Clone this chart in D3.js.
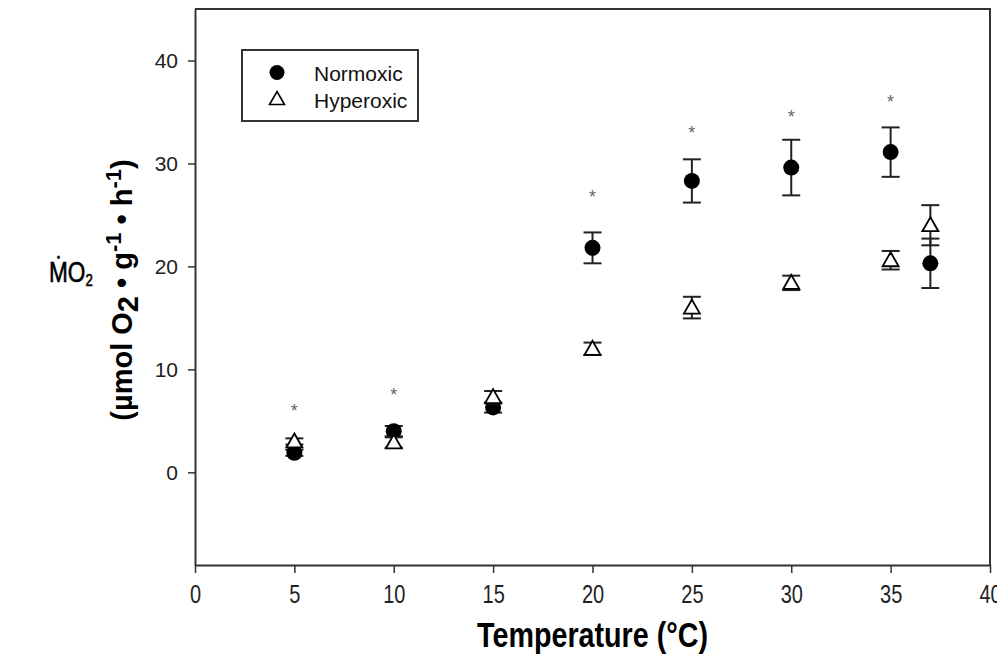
<!DOCTYPE html>
<html>
<head>
<meta charset="utf-8">
<script src="https://cdn.jsdelivr.net/npm/d3@7"></script>
<style>
  html, body { margin: 0; padding: 0; background: #fff; }
  svg { display: block; }
  text { font-family: Arial, "Liberation Sans", sans-serif; }
</style>
</head>
<body>
<svg id="chart" width="997" height="658"></svg>
<script>
// ---- data ----
const temperatures = [5, 10, 15, 20, 25, 30, 35, 37];
const normoxicMean = [1.9, 4.0, 6.3, 21.8, 28.3, 29.6, 31.1, 20.3];
const normoxicErr  = [0.3, 0.5, 0.5, 1.5, 2.1, 2.7, 2.4, 2.4];
const hyperoxicMean = [3.0, 2.9, 7.3, 12.0, 16.0, 18.4, 20.6, 24.0];
const hyperoxicErr  = [0.3, 0.5, 0.6, 0.6, 1.05, 0.7, 0.9, 1.95];
const asteriskTemps = [5, 10, 20, 25, 30, 35];
const asteriskLevels = [6.3, 7.9, 27.1, 33.3, 34.9, 36.4];
const xTicks = [0, 5, 10, 15, 20, 25, 30, 35, 40];
const yTicks = [0, 10, 20, 30, 40];
const seriesNames = ["Normoxic", "Hyperoxic"];

// ---- layout ----
const svg = d3.select("#chart");
const pLeft = 195, pRight = 990, pTop = 9, pBottom = 565;
const x = d3.scaleLinear().domain([0, 40]).range([pLeft, pRight]);
const y = d3.scaleLinear().domain([-9, 45]).range([pBottom, pTop]);
const axisColor = "#333";
const narrow = 0.8;

// frame (top & right)
svg.append("path")
  .attr("d", `M${pLeft},${pTop}H${pRight}V${pBottom}`)
  .attr("fill", "none").attr("stroke", axisColor).attr("stroke-width", 2);

// axes
const xAxis = svg.append("g").attr("transform", `translate(0,${pBottom})`)
  .call(d3.axisBottom(x).tickValues(xTicks).tickSizeOuter(0).tickSizeInner(8));
const yAxis = svg.append("g").attr("transform", `translate(${pLeft},0)`)
  .call(d3.axisLeft(y).tickValues(yTicks).tickSizeOuter(0).tickSizeInner(7).tickPadding(10));
[xAxis, yAxis].forEach(g => {
  g.select(".domain").attr("stroke", axisColor).attr("stroke-width", 2);
  g.selectAll(".tick line").attr("stroke", axisColor).attr("stroke-width", 1.5);
  g.selectAll(".tick text").attr("fill", "#222")
    .style("font-family", "Arial, 'Liberation Sans', sans-serif");
});
xAxis.selectAll(".tick text")
  .attr("y", 0).attr("dy", null)
  .attr("transform", `translate(0,38) scale(${narrow},1)`)
  .style("font-size", "25px");
yAxis.selectAll(".tick text").style("font-size", "21px");

// ---- markers ----
const capW = 9;
function drawSeries(means, errs, kind) {
  const g = svg.append("g");
  temperatures.forEach((t, i) => {
    const cx = x(t);
    const y1 = y(means[i] + errs[i]), y2 = y(means[i] - errs[i]);
    g.append("line").attr("x1", cx).attr("x2", cx).attr("y1", y1).attr("y2", y2)
      .attr("stroke", "#222").attr("stroke-width", 2);
    [y1, y2].forEach(yy => g.append("line").attr("x1", cx - capW).attr("x2", cx + capW)
      .attr("y1", yy).attr("y2", yy).attr("stroke", "#222").attr("stroke-width", 2));
  });
  temperatures.forEach((t, i) => {
    const cx = x(t), cy = y(means[i]);
    if (kind === "circle") {
      g.append("circle").attr("cx", cx).attr("cy", cy).attr("r", 8).attr("fill", "#000");
    } else {
      g.append("path").attr("d", `M${cx},${cy - 8}L${cx + 8},${cy + 6}L${cx - 8},${cy + 6}Z`)
        .attr("fill", "#fff").attr("stroke", "#000").attr("stroke-width", 1.8);
    }
  });
}
drawSeries(normoxicMean, normoxicErr, "circle");
drawSeries(hyperoxicMean, hyperoxicErr, "triangle");

// asterisks
svg.append("g").selectAll("text").data(asteriskTemps).join("text")
  .attr("x", d => x(d)).attr("y", (d, i) => y(asteriskLevels[i]) + 10)
  .attr("text-anchor", "middle").attr("fill", "#666").style("font-size", "18px")
  .text("*");

// ---- legend ----
const lg = svg.append("g");
lg.append("rect").attr("x", 242).attr("y", 50).attr("width", 176).attr("height", 71)
  .attr("fill", "#fff").attr("stroke", axisColor).attr("stroke-width", 2);
lg.append("circle").attr("cx", 277).attr("cy", 72.5).attr("r", 7.5).attr("fill", "#000");
lg.append("path").attr("d", `M277,${99 - 7.5}L${284.5},${99 + 5.5}L${269.5},${99 + 5.5}Z`)
  .attr("fill", "#fff").attr("stroke", "#000").attr("stroke-width", 1.6);
lg.selectAll("text.leg").data(seriesNames).join("text").attr("class", "leg")
  .attr("x", 314).attr("y", (d, i) => 80.5 + i * 27)
  .attr("fill", "#111").style("font-size", "21px").text(d => d);

// ---- axis titles ----
svg.append("text").attr("transform", `translate(${x(20)},647) scale(0.82,1)`)
  .attr("text-anchor", "middle")
  .style("font-size", "35px").style("font-weight", "bold").attr("fill", "#000")
  .text("Temperature (°C)");

const mo = svg.append("text").attr("transform", "translate(49,282) scale(0.78,1)")
  .style("font-size", "29px").attr("fill", "#000").style("stroke", "#000").style("stroke-width", 0.6);
mo.append("tspan").text("\u1E40O");
mo.append("tspan").attr("dy", 4).style("font-size", "17px").text("2");

const yl = svg.append("text").attr("transform", "translate(132,290) rotate(-90)")
  .attr("text-anchor", "middle").style("font-size", "29px").style("font-weight", "bold").attr("fill", "#000");
yl.append("tspan").text("(µmol O");
yl.append("tspan").attr("dy", 6).text("2");
yl.append("tspan").attr("dy", -6).text(" • g");
yl.append("tspan").attr("dy", -11).style("font-size", "22px").text("-1");
yl.append("tspan").attr("dy", 11).text(" • h");
yl.append("tspan").attr("dy", -11).style("font-size", "22px").text("-1");
yl.append("tspan").attr("dy", 11).text(")");
</script>
</body>
</html>
